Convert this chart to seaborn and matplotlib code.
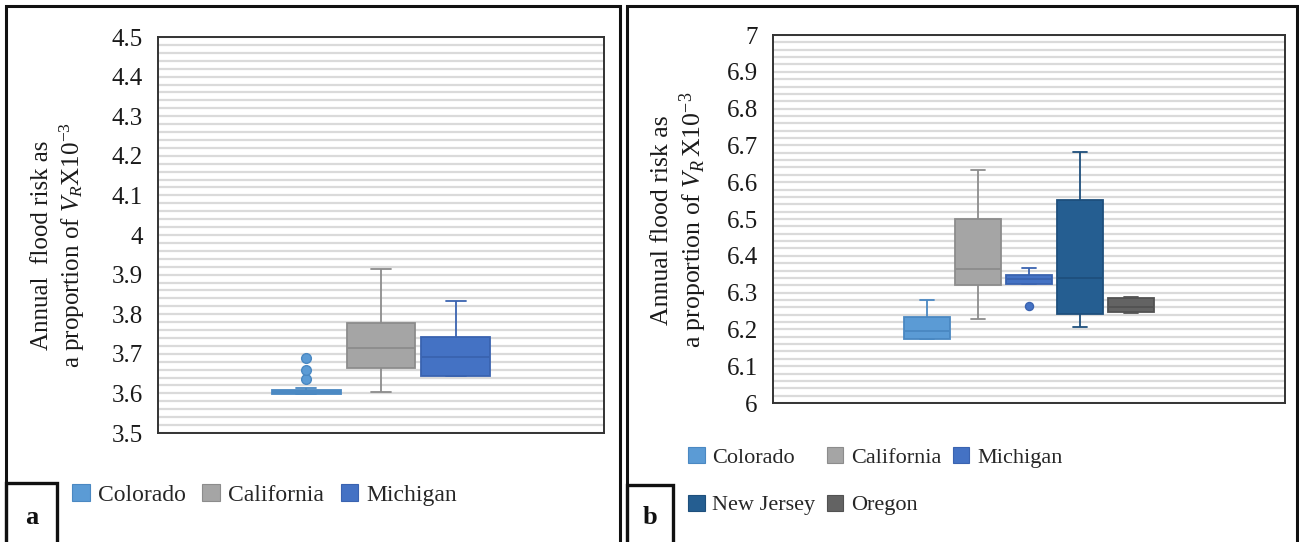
import numpy as np
import pandas as pd
import matplotlib
matplotlib.use("Agg")
import matplotlib.pyplot as plt
from matplotlib.patches import Patch, Rectangle
from matplotlib.ticker import MultipleLocator, FuncFormatter
import seaborn as sns

# ---------------- data ----------------
states_a = ["Colorado", "California", "Michigan"]
a_whislo = [3.599, 3.604, 3.644]
a_q1 = [3.599, 3.663, 3.644]
a_median = [3.604, 3.715, 3.693]
a_q3 = [3.608, 3.777, 3.742]
a_whishi = [3.614, 3.914, 3.834]
a_outlier_state = ["Colorado", "Colorado", "Colorado"]
a_outlier_value = [3.636, 3.659, 3.690]

states_b = ["Colorado", "California", "Michigan", "New Jersey", "Oregon"]
b_whislo = [6.174, 6.228, 6.324, 6.207, 6.245]
b_q1 = [6.175, 6.321, 6.324, 6.243, 6.246]
b_median = [6.197, 6.364, 6.337, 6.341, 6.262]
b_q3 = [6.233, 6.499, 6.347, 6.552, 6.285]
b_whishi = [6.281, 6.633, 6.366, 6.681, 6.287]
b_outlier_state = ["Michigan"]
b_outlier_value = [6.264]

fill_colors = {
    "Colorado": "#5B9BD5",
    "California": "#A5A5A5",
    "Michigan": "#4472C4",
    "New Jersey": "#255E91",
    "Oregon": "#636363",
}
edge_colors = {
    "Colorado": "#4A88C2",
    "California": "#8C8C8C",
    "Michigan": "#3A63B0",
    "New Jersey": "#1E4F7C",
    "Oregon": "#525252",
}

ylabel_a = "Annual  flood risk as\na proportion of $V_R$X10$^{-3}$"
ylabel_b = "Annual flood risk as\na proportion of $V_R\\,$X10$^{-3}$"

# ---------------- style ----------------
sns.set_theme(style="white")
plt.rcParams["font.family"] = ["Liberation Serif", "DejaVu Serif"]
plt.rcParams["mathtext.fontset"] = "custom"
plt.rcParams["mathtext.rm"] = "Liberation Serif"
plt.rcParams["mathtext.it"] = "Liberation Serif:italic"

W, H = 1299, 542
fig = plt.figure(figsize=(W / 100, H / 100), dpi=100)
fig.patch.set_facecolor("white")


def px_rect(x0, y0, x1, y1):
    """Figure-fraction rectangle from pixel corners (top-left origin)."""
    return [x0 / W, 1 - y1 / H, (x1 - x0) / W, (y1 - y0) / H]


def draw_panel(ax, states, lo, q1, med, q3, hi, out_state, out_value,
               ylim, n_slots, flier_size):
    for i, s in enumerate(states):
        df = pd.DataFrame({"state": s,
                           "value": [lo[i], q1[i], med[i], q3[i], hi[i]]})
        sns.boxplot(data=df, x="state", y="value", order=states,
                    color=fill_colors[s], linecolor=edge_colors[s],
                    saturation=1, width=0.92, whis=np.inf, linewidth=1.3,
                    capwidths=0.27, ax=ax)
    outliers = pd.DataFrame({"state": out_state, "value": out_value})
    for s, grp in outliers.groupby("state", sort=False):
        sns.stripplot(data=grp, x="state", y="value", order=states,
                      jitter=False, color=fill_colors[s], size=flier_size,
                      edgecolor=edge_colors[s], linewidth=1.0, ax=ax,
                      zorder=4)
    center = (len(states) - 1) / 2
    ax.set_xlim(center - n_slots / 2, center + n_slots / 2)
    ax.set_ylim(*ylim)
    ax.set_xticks([])
    ax.set_xlabel("")
    ax.set_ylabel("")
    ax.yaxis.set_major_locator(MultipleLocator(0.1))
    ax.yaxis.set_minor_locator(MultipleLocator(0.02))
    ax.yaxis.set_major_formatter(FuncFormatter(lambda v, p: f"{v:g}"))
    ax.grid(False)
    ax.grid(axis="y", which="both", color="#DADADA", linewidth=1.6)
    ax.set_axisbelow(True)
    ax.tick_params(axis="y", which="both", length=0, pad=11, labelsize=18,
                   labelcolor="#1a1a1a")
    for sp in ax.spines.values():
        sp.set_visible(True)
        sp.set_color("#333333")
        sp.set_linewidth(1.4)


ax_a = fig.add_axes(px_rect(158, 37, 604, 433))
ax_b = fig.add_axes(px_rect(773, 35, 1285, 403))

draw_panel(ax_a, states_a, a_whislo, a_q1, a_median, a_q3, a_whishi,
           a_outlier_state, a_outlier_value, (3.5, 4.5), 5.95, 7.0)
draw_panel(ax_b, states_b, b_whislo, b_q1, b_median, b_q3, b_whishi,
           b_outlier_state, b_outlier_value, (6.0, 7.0), 10.04, 5.8)

# y-axis titles
fig.text(59 / W, 1 - 245 / H, ylabel_a, rotation=90, ha="center",
         va="center", multialignment="center", fontsize=18,
         linespacing=1.25, color="#1a1a1a")
fig.text(680 / W, 1 - 220 / H, ylabel_b, rotation=90, ha="center",
         va="center", multialignment="center", fontsize=18.5,
         linespacing=1.2, color="#1a1a1a")


# legends
def legend_handles(states):
    return [Patch(facecolor=fill_colors[s], edgecolor=edge_colors[s],
                  linewidth=0.8) for s in states]


fig.legend(legend_handles(states_a), states_a, loc="upper left",
           bbox_to_anchor=(72 / W, 1 - 484 / H), ncol=3, frameon=False,
           fontsize=17, handlelength=0.75, handleheight=0.75,
           handletextpad=0.35, columnspacing=0.7, borderaxespad=0,
           borderpad=0)

# legend entries are laid out column by column; list them so rows read
# Colorado, California, Michigan / New Jersey, Oregon
legend_b_order = ["Colorado", "New Jersey", "California", "Oregon", "Michigan"]
fig.legend(legend_handles(legend_b_order), legend_b_order, loc="upper left",
           bbox_to_anchor=(688 / W, 1 - 447 / H), ncol=3, frameon=False,
           fontsize=16, handlelength=0.75, handleheight=0.75,
           handletextpad=0.35, columnspacing=0.5, labelspacing=1.2,
           borderaxespad=0, borderpad=0)

# panel frames and panel letters
for (x0, y0, x1, y1) in [(6, 6, 620, 548), (627, 6, 1297, 548)]:
    fig.add_artist(Rectangle((x0 / W, 1 - y1 / H), (x1 - x0) / W,
                             (y1 - y0) / H, transform=fig.transFigure,
                             fill=False, edgecolor="#111111", linewidth=2.2))
for (x0, y0, x1, y1, letter) in [(6, 483, 57, 548, "a"),
                                 (627, 485, 673, 548, "b")]:
    fig.add_artist(Rectangle((x0 / W, 1 - y1 / H), (x1 - x0) / W,
                             (y1 - y0) / H, transform=fig.transFigure,
                             fill=False, edgecolor="#111111", linewidth=2.4))
    fig.text((x0 + x1) / 2 / W, 1 - 518 / H, letter, ha="center",
             va="center", fontsize=19, fontweight="bold", color="#111111")

fig.savefig("out.png", dpi=100, facecolor="white")
